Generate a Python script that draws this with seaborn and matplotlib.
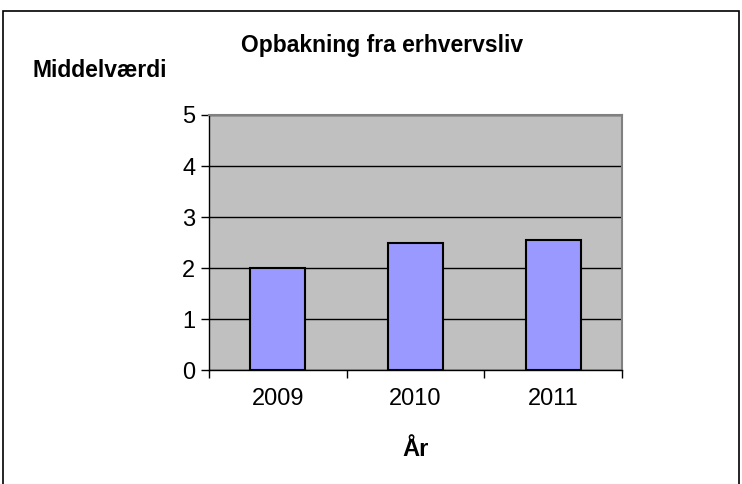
import pandas as pd
import matplotlib
matplotlib.use("Agg")
from matplotlib import pyplot as plt
from matplotlib.patches import Rectangle
import seaborn as sns

years = ["2009", "2010", "2011"]
means = [2.0, 2.5, 2.54]

df = pd.DataFrame({"År": years, "Middelværdi": means})

sns.set_style("white")
plt.rcParams["font.family"] = ["Liberation Sans", "DejaVu Sans"]
plt.rcParams["text.color"] = "black"
plt.rcParams["axes.labelcolor"] = "black"
plt.rcParams["xtick.color"] = "black"
plt.rcParams["ytick.color"] = "black"

fig = plt.figure(figsize=(7.42, 4.84), dpi=100)
ax = fig.add_axes([0.2817, 0.2355, 0.5566, 0.5269])
ax.set_facecolor("#C0C0C0")

sns.barplot(data=df, x="År", y="Middelværdi", ax=ax, color="#9999FF",
            edgecolor="black", linewidth=1.5, width=0.4, saturation=1)

ax.set_ylim(0, 5)
ax.set_xlim(-0.5, len(years) - 0.5)
ax.set_yticks(range(0, 6))
ax.yaxis.grid(True, color="black", linewidth=1)
ax.set_axisbelow(True)

# category ticks sit between the bars
ax.set_xticks([i - 0.5 for i in range(len(years) + 1)], minor=True)
ax.tick_params(axis="x", which="major", length=0, pad=13, labelsize=17)
ax.tick_params(axis="x", which="minor", length=6, width=1, color="black", direction="out")
ax.tick_params(axis="y", length=6, width=1, color="black", direction="out", labelsize=17, pad=4)
ax.tick_params(left=True, bottom=True, which="both")

for side in ["left", "bottom"]:
    ax.spines[side].set_color("black")
    ax.spines[side].set_linewidth(1)
for side in ["top", "right"]:
    ax.spines[side].set_color("#808080")
    ax.spines[side].set_linewidth(1.5)

ax.set_xlabel("År", fontsize=17, fontweight="bold", labelpad=20)
ax.set_ylabel("")

fig.text(0.515, 0.905, "Opbakning fra erhvervsliv", ha="center", va="center",
         fontsize=16.5, fontweight="bold")
fig.text(0.044, 0.855, "Middelværdi", ha="left", va="center",
         fontsize=16.5, fontweight="bold")

fig.patches.append(Rectangle((3 / 742, -0.1), 736 / 742, 1.1 - 11 / 484,
                             transform=fig.transFigure, fill=False,
                             edgecolor="black", linewidth=1.2))

plt.savefig("out.png", dpi=100)
